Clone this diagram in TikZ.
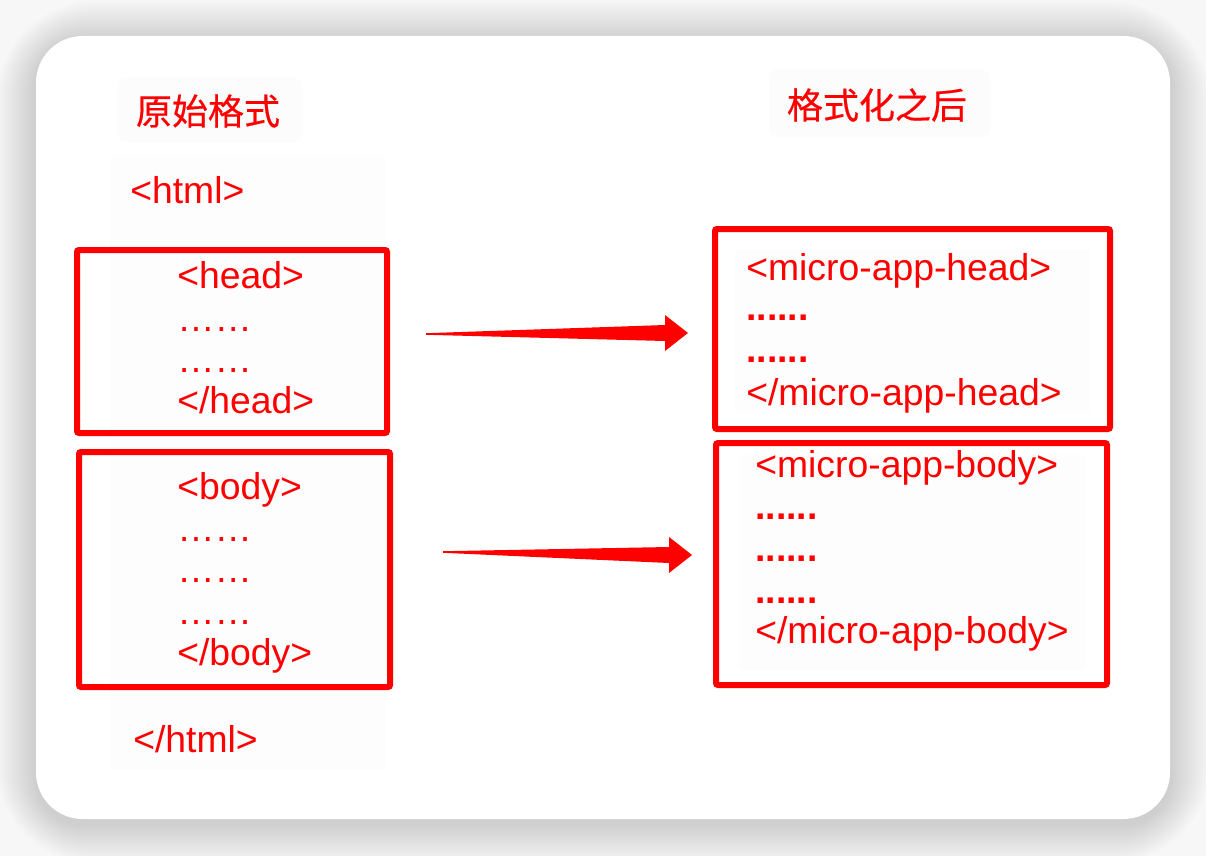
\documentclass[tikz,border=0pt]{standalone}
\usepackage{fontspec}
\setmainfont{Liberation Sans}
\newfontfamily\cjk{Noto Sans CJK SC}[FakeBold=0.5]
\usetikzlibrary{calc}
\definecolor{tagred}{HTML}{FF0000}
\tikzset{
  tag/.style={text=tagred,font=\fontsize{28}{33}\selectfont,anchor=base west,inner sep=0pt},
  title/.style={text=tagred,font=\cjk\fontsize{27}{32}\selectfont,inner sep=0pt},
  frame/.style={draw=tagred,line width=4.5pt,rounded corners=1.5pt},
  faint/.style={fill=black!1,rounded corners=6pt}
}
\begin{document}
\begin{tikzpicture}[x=0.75pt,y=-0.75pt]
\useasboundingbox (0,0) rectangle (1206,856);
\fill[black!3] (0,0) rectangle (1206,856);
\foreach \i in {1,...,20}
  \fill[black,opacity=0.009,rounded corners=35+2*\i]
    (36-2*\i,36-2*\i+5) rectangle (1170+2*\i,819+2*\i+5);
\fill[white,rounded corners=35] (36,36) rectangle (1170,819);
\fill[faint] (118,78) rectangle (302,142);
\fill[faint] (769,70) rectangle (990,137);
\fill[black!0.8] (110,157) rectangle (385,770);
\fill[black!0.8] (735,250) rectangle (1090,412);
\fill[black!0.8] (740,455) rectangle (1085,670);
\node[title] (tl) at (208,111) {原始格式};
\node[title] (tr) at (877,105) {格式化之后};
\node[tag] (html) at (130,203) {<html>};
\coordinate (hl1) at (77,250);
\coordinate (hl2) at (387,433);
\draw[frame] (hl1) rectangle (hl2);
\node[tag] (h1) at (177,288) {<head>};
\node[tag] (h2) at (177,331) {……};
\node[tag] (h3) at (177,372) {……};
\node[tag] (h4) at (177,413) {</head>};
\coordinate (bl1) at (79,452);
\coordinate (bl2) at (390,687);
\draw[frame] (bl1) rectangle (bl2);
\node[tag] (b1) at (177,499) {<body>};
\node[tag] (b2) at (177,541) {……};
\node[tag] (b3) at (177,582) {……};
\node[tag] (b4) at (177,624) {……};
\node[tag] (b5) at (177,665) {</body>};
\node[tag] (ehtml) at (133,752) {</html>};
\coordinate (hr1) at (715,229);
\coordinate (hr2) at (1110,429);
\draw[frame] (hr1) rectangle (hr2);
\node[tag] (mh1) at (746,280) {<micro-app-head>};
\node[tag] (mh2) at (746,320) {\textbf{......}};
\node[tag] (mh3) at (746,362) {\textbf{......}};
\node[tag] (mh4) at (746,405) {</micro-app-head>};
\coordinate (br1) at (716,443);
\coordinate (br2) at (1107,685);
\draw[frame] (br1) rectangle (br2);
\node[tag] (mb1) at (755,477) {<micro-app-body>};
\node[tag] (mb2) at (755,519) {\textbf{......}};
\node[tag] (mb3) at (755,561) {\textbf{......}};
\node[tag] (mb4) at (755,603) {\textbf{......}};
\node[tag] (mb5) at (755,643) {</micro-app-body>};
\coordinate (s1) at (426,334);
\coordinate (e1) at (688,333);
\coordinate (s2) at (443,552);
\coordinate (e2) at (692,555);
\foreach \s/\e in {s1/e1,s2/e2}
  \fill[tagred] ($(\s)+(0,-0.8)$) -- ($(\e)+(-23,-8)$) -- ($(\e)+(-23,-18)$) -- (\e)
    -- ($(\e)+(-23,18)$) -- ($(\e)+(-23,8)$) -- ($(\s)+(0,0.8)$) -- cycle;
\end{tikzpicture}
\end{document}
